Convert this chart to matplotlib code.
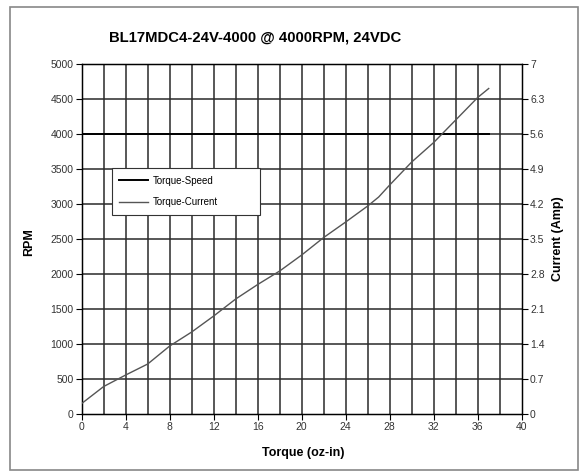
import numpy as np
import matplotlib.pyplot as plt
from matplotlib.patches import Rectangle

plt.rcParams['font.family'] = ['Liberation Sans', 'DejaVu Sans']

# Torque-speed line (flat at rated speed)
speed_torque = [0, 37]
speed_rpm = [4000, 4000]

# Torque-current curve
torque = [0, 2, 4, 6, 8, 10, 12, 14, 16, 18, 20, 22, 24, 26, 27, 28, 30, 32, 34, 36, 37]
current = [0.21, 0.55, 0.78, 1.00, 1.36, 1.64, 1.96, 2.30, 2.59, 2.86, 3.18,
           3.53, 3.84, 4.16, 4.34, 4.58, 5.04, 5.43, 5.88, 6.33, 6.51]

rpm_ticks = list(range(0, 5001, 500))
amp_labels = ['0', '0.7', '1.4', '2.1', '2.8', '3.5', '4.2', '4.9', '5.6', '6.3', '7']
x_ticks = list(range(0, 41, 4))

fig = plt.figure(figsize=(5.85, 4.76), dpi=100)
W, H = 585, 476

# outer frame
fig.patches.append(Rectangle((10 / W, 1 - 470 / H), 568 / W, 463 / H,
                             transform=fig.transFigure, fill=False,
                             edgecolor='#888888', linewidth=1.2))

ax = fig.add_axes([81.7 / W, 1 - 414 / H, 440 / W, 350 / H])
ax.set_xlim(0, 40)
ax.set_ylim(0, 5000)

# grid
for gx in range(2, 40, 2):
    ax.axvline(gx, color='#2a2a2a', lw=1.1, zorder=1)
for gy in range(500, 5000, 500):
    ax.axhline(gy, color='#2a2a2a', lw=1.1, zorder=1)

l1, = ax.plot(speed_torque, speed_rpm, color='black', lw=1.4, zorder=3, label='Torque-Speed')

ax.set_xticks(x_ticks)
ax.set_yticks(rpm_ticks)
ax.tick_params(axis='both', labelsize=7.5, labelcolor='#333333', length=4, width=0.8,
               direction='out', pad=2)
for s in ax.spines.values():
    s.set_linewidth(1.0)

ax2 = ax.twinx()
ax2.set_ylim(0, 7)
ax2.set_yticks([i * 0.7 for i in range(11)])
ax2.set_yticklabels(amp_labels)
ax2.tick_params(axis='y', labelsize=7.5, labelcolor='#333333', length=4, width=0.8, pad=2)
l2, = ax2.plot(torque, current, color='#555555', lw=1.0, zorder=3, label='Torque-Current')

fig.text(303 / W, 1 - 453 / H, 'Torque (oz-in)', ha='center', va='center',
         fontsize=9, fontweight='bold')
fig.text(29 / W, 1 - 242 / H, 'RPM', ha='center', va='center', rotation=90,
         fontsize=9, fontweight='bold')
fig.text(558 / W, 1 - 239 / H, 'Current (Amp)', ha='center', va='center', rotation=90,
         fontsize=9, fontweight='bold')

leg = ax2.legend(handles=[l1, l2], loc='lower left',
                 bbox_to_anchor=(0.068, 0.568, 0.337, 0.133), mode='expand',
                 fontsize=7, handlelength=2.9, labelspacing=1.2, handletextpad=0.5,
                 fancybox=False, framealpha=1, edgecolor='#333333',
                 borderaxespad=0, borderpad=0.8)
leg.get_frame().set_linewidth(0.8)

fig.text(255 / W, 1 - 37 / H, 'BL17MDC4-24V-4000 @ 4000RPM, 24VDC',
         ha='center', va='center', fontsize=10.7, fontweight='bold')

fig.savefig('out.png', dpi=100)
